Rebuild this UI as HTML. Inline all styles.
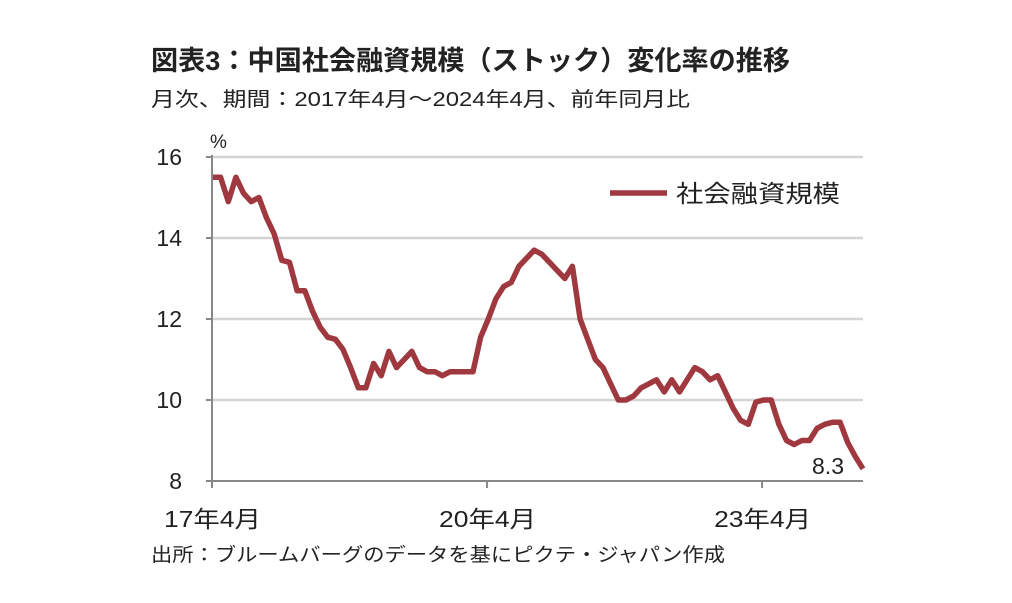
<!DOCTYPE html>
<html><head><meta charset="utf-8"><style>
body{margin:0;background:#fff;}
svg text{font-family:"Liberation Sans","Noto Sans CJK JP",sans-serif;fill:#222;}
</style></head><body>
<svg width="1012" height="598" viewBox="0 0 1012 598">
<text x="151" y="70" font-size="27" font-weight="bold" textLength="639" lengthAdjust="spacingAndGlyphs">図表3：中国社会融資規模（ストック）変化率の推移</text>
<text x="151" y="106" font-size="20" textLength="539" lengthAdjust="spacingAndGlyphs">月次、期間：2017年4月～2024年4月、前年同月比</text>
<text x="210" y="148" font-size="19">%</text>
<g id="grid"></g>
<g id="yt"></g>
<g id="xt"></g>
<path id="line" fill="none" stroke="#a0383f" stroke-width="5.5" stroke-linejoin="round"/>
<text x="844" y="474" font-size="23" text-anchor="end">8.3</text>
<line x1="610" y1="193" x2="667" y2="193" stroke="#a0383f" stroke-width="5.5"/>
<text x="676" y="202" font-size="24" textLength="164" lengthAdjust="spacingAndGlyphs">社会融資規模</text>
<text x="151" y="561" font-size="19" textLength="574" lengthAdjust="spacingAndGlyphs">出所：ブルームバーグのデータを基にピクテ・ジャパン作成</text>
</svg>
<script>
const values=[15.5,15.5,14.9,15.5,15.1,14.9,15.0,14.5,14.1,13.45,13.4,12.7,12.7,12.2,11.8,11.55,11.5,11.25,10.8,10.3,10.3,10.9,10.6,11.2,10.8,11.0,11.2,10.8,10.7,10.7,10.6,10.7,10.7,10.7,10.7,11.55,12.0,12.5,12.8,12.9,13.3,13.5,13.7,13.6,13.4,13.2,13.0,13.3,12.0,11.5,11.0,10.8,10.4,10.0,10.0,10.1,10.3,10.4,10.5,10.2,10.5,10.2,10.5,10.8,10.7,10.5,10.6,10.2,9.8,9.5,9.4,9.95,10.0,10.0,9.4,9.0,8.9,9.0,9.0,9.3,9.4,9.45,9.45,8.95,8.6,8.3];
const yTicks=[8,10,12,14,16];
const xLabels=["17年4月","20年4月","23年4月"];
const xLabelIdx=[0,36,72];
const ns="http://www.w3.org/2000/svg";
const X0=212,X1=863,Y0=481,Y1=157,YMIN=8,YMAX=16;
const xs=i=>X0+1+i*(X1-X0-1)/(values.length-1);
const ys=v=>Y0-(v-YMIN)/(YMAX-YMIN)*(Y0-Y1);
function mk(t,a){const e=document.createElementNS(ns,t);for(const k in a)e.setAttribute(k,a[k]);return e;}
const grid=document.getElementById('grid'),yt=document.getElementById('yt'),xt=document.getElementById('xt');
yTicks.forEach(v=>{
 const y=ys(v);
 if(v!==YMIN){const g=mk('line',{x1:X0,x2:X1,y1:y,y2:y,stroke:'#d4d4d4','stroke-width':2.5});
 
 grid.appendChild(g);}
 const tk=mk('line',{x1:X0-6,x2:X0,y1:y,y2:y,stroke:'#888','stroke-width':2});
 
 yt.appendChild(tk);
 const t=mk('text',{x:182,y:y+8,'font-size':23,'text-anchor':'end'});t.textContent=v;
 
 yt.appendChild(t);
});
const ax=mk('line',{x1:X0,x2:X0,y1:Y1-2,y2:Y0+6,stroke:'#888','stroke-width':2});

yt.appendChild(ax);
const bx=mk('line',{x1:X0,x2:X1,y1:Y0,y2:Y0,stroke:'#888','stroke-width':2});

xt.appendChild(bx);
xLabels.forEach((l,k)=>{
 const x=X0+xLabelIdx[k]*7.64;
 const tk=mk('line',{x1:x,x2:x,y1:Y0,y2:Y0+7,stroke:'#888','stroke-width':2});
 
 xt.appendChild(tk);
 const t=mk('text',{x:x-48,y:527,'font-size':23,textLength:97,lengthAdjust:'spacingAndGlyphs'});t.textContent=l;
 
 xt.appendChild(t);
});
document.getElementById('line').setAttribute('d',values.map((v,i)=>(i?'L':'M')+xs(i).toFixed(1)+','+ys(v).toFixed(1)).join(''));
</script>
</body></html>
